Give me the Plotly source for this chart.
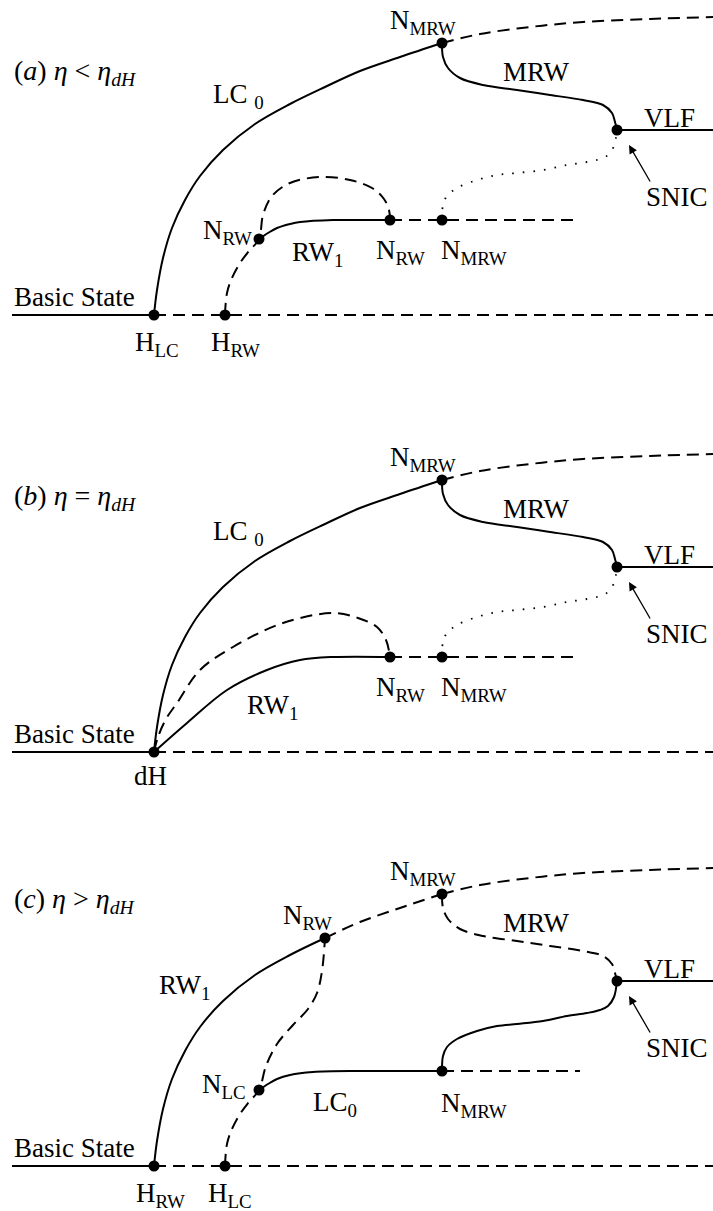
import plotly.graph_objects as go

# ---------------- data (schematic, drawn in panel-(a) frame) ----------------
PANEL_DY = [0, 437, 851]          # vertical shift of panels (a), (b), (c)

BASIC_X = [12, 154]
BASE_Y = 315
AXIS_DASH_X = [154, 713]

# primary branch rising from the first Hopf point up to N_MRW
UPPER_X = [154, 157, 163, 172, 185, 200, 223, 255, 290, 325, 360, 400, 442]
UPPER_Y = [315, 290, 258, 228, 200, 176, 150, 124, 104, 87, 71, 57, 43]
N_SPLIT_C = 9                     # index of N_RW on that branch in panel (c)

# unstable continuation beyond N_MRW
FAR_X = [442, 480, 530, 583, 650, 713]
FAR_Y = [43, 34, 27, 22, 19, 17]

# MRW branch from N_MRW down to SNIC
MRW_X = [442, 443, 448, 460, 483, 517, 550, 583, 603, 612, 615, 617]
MRW_Y = [43, 57, 68, 78, 85, 90, 95, 100, 105, 113, 122, 130]

VLF_X = [617, 713]
VLF_Y = 130

# branch from lower N_MRW up to SNIC
RISE_X = [442, 443, 447, 457, 477, 497, 517, 543, 567, 587, 600, 608, 614, 617]
RISE_Y = [220, 205, 196, 188, 180, 175, 173, 170, 165, 162, 159, 155, 146, 130]

LOW_DASH_X = [390, 577]
LOW_DASH_X_C = [442, 580]
LOW_Y = 220

# secondary branch (a): solid plateau from N_RW to N_RW
PLATEAU_X = [259, 268, 277, 290, 300, 333, 360, 390]
PLATEAU_Y = [239, 233, 228, 224, 222, 220, 220, 220]
PLATEAU_X_C = [259, 268, 277, 290, 313, 360, 400, 442]
PLATEAU_Y_C = [239, 233, 228, 224, 221, 220, 220, 220]

# secondary dashed branch (a): H_RW -> N_RW -> arch -> N_RW
ARCH_X = [225, 227, 232, 240, 249, 259, 263, 272, 290, 320, 350, 372, 384, 389, 390]
ARCH_Y = [315, 293, 278, 263, 251, 239, 215, 196, 183, 177, 180, 188, 199, 210, 220]

# panel (c): dashed H_LC -> N_LC -> N_RW
RIDGE_X = [225, 227, 232, 240, 249, 259, 266, 277, 293, 308, 317, 322, 325]
RIDGE_Y = [315, 293, 278, 263, 251, 239, 215, 193, 174, 158, 142, 120, 87]

# panel (b): branches emanating from the double-Hopf point
RW1B_X = [154, 187, 227, 267, 300, 333, 390]
RW1B_Y = [315, 286, 253, 233, 223, 220, 220]
ARCHB_X = [154, 158, 166, 177, 200, 233, 283, 333, 358, 377, 386, 390]
ARCHB_Y = [315, 300, 282, 266, 233, 210, 186, 176, 181, 190, 203, 220]

# bifurcation points per panel
DOTS_A_X = [154, 225, 259, 390, 442, 442, 617]
DOTS_A_Y = [315, 315, 239, 220, 220, 43, 130]
DOTS_B_X = [154, 390, 442, 442, 617]
DOTS_B_Y = [315, 220, 220, 43, 130]
DOTS_C_X = [154, 225, 259, 325, 442, 442, 617]
DOTS_C_Y = [315, 315, 239, 87, 43, 220, 130]

# --------------------------------------------------------------------------
FONT = "Liberation Serif"
DASH = "12px,7px"
DOT = "1.6px,9px"

fig = go.Figure()


def curve(xs, ys, dy, dash="solid", width=2.0):
    if not isinstance(ys, (list, tuple)):
        ys = [ys] * len(xs)
    fig.add_trace(go.Scatter(
        x=list(xs), y=[v + dy for v in ys], mode="lines",
        line=dict(color="black", width=width, dash=dash, shape="spline", smoothing=1.0),
        hoverinfo="skip"))


def dots(xs, ys, dy):
    fig.add_trace(go.Scatter(
        x=xs, y=[v + dy for v in ys], mode="markers",
        marker=dict(color="black", size=11), hoverinfo="skip"))


# ---- panel (a)
d = PANEL_DY[0]
curve(BASIC_X, BASE_Y, d)
curve(AXIS_DASH_X, BASE_Y, d, DASH)
curve(UPPER_X, UPPER_Y, d)
curve(FAR_X, FAR_Y, d, DASH)
curve(MRW_X, MRW_Y, d)
curve(VLF_X, VLF_Y, d)
curve(RISE_X, RISE_Y, d, DOT, 1.8)
curve(LOW_DASH_X, LOW_Y, d, DASH)
curve(PLATEAU_X, PLATEAU_Y, d)
curve(ARCH_X, ARCH_Y, d, DASH)
dots(DOTS_A_X, DOTS_A_Y, d)

# ---- panel (b)
d = PANEL_DY[1]
curve(BASIC_X, BASE_Y, d)
curve(AXIS_DASH_X, BASE_Y, d, DASH)
curve(UPPER_X, UPPER_Y, d)
curve(FAR_X, FAR_Y, d, DASH)
curve(MRW_X, MRW_Y, d)
curve(VLF_X, VLF_Y, d)
curve(RISE_X, RISE_Y, d, DOT, 1.8)
curve(LOW_DASH_X, LOW_Y, d, DASH)
curve(RW1B_X, RW1B_Y, d)
curve(ARCHB_X, ARCHB_Y, d, DASH)
dots(DOTS_B_X, DOTS_B_Y, d)

# ---- panel (c)
d = PANEL_DY[2]
curve(BASIC_X, BASE_Y, d)
curve(AXIS_DASH_X, BASE_Y, d, DASH)
curve(UPPER_X[:N_SPLIT_C + 1], UPPER_Y[:N_SPLIT_C + 1], d)
curve(UPPER_X[N_SPLIT_C:], UPPER_Y[N_SPLIT_C:], d, DASH)
curve(FAR_X, FAR_Y, d, DASH)
curve(MRW_X, MRW_Y, d, DASH)
curve(VLF_X, VLF_Y, d)
curve(RISE_X, RISE_Y, d)
curve(LOW_DASH_X_C, LOW_Y, d, DASH)
curve(PLATEAU_X_C, PLATEAU_Y_C, d)
curve(RIDGE_X, RIDGE_Y, d, DASH)
dots(DOTS_C_X, DOTS_C_Y, d)

# ---- labels
ann = []
LS = 27


def label(text, x, y, size=LS, xanchor="center"):
    ann.append(dict(text=text, x=x, y=y, xref="x", yref="y", showarrow=False,
                    xanchor=xanchor, yanchor="middle",
                    font=dict(family=FONT, size=size, color="black")))


def arrow(dy):
    ann.append(dict(text="", x=629, y=145 + dy, ax=651, ay=183 + dy, xref="x", yref="y",
                    axref="x", ayref="y", showarrow=True, arrowhead=2, arrowsize=1.3,
                    arrowwidth=1.3, arrowcolor="black"))


NM = "N<sub>MRW</sub>"
NR = "N<sub>RW</sub>"
MS = 28

# (a)
d = PANEL_DY[0]
label("(<i>a</i>) <i>η</i> &lt; <i>η</i><sub><i>dH</i></sub>", 12, 72 + d, MS, "left")
label("LC <sub>0</sub>", 238, 96 + d)
label(NM, 423, 22 + d)
label("MRW", 536, 72 + d)
label("VLF", 669, 118 + d)
label("SNIC", 677, 197 + d)
label(NR, 227, 232 + d)
label("RW<sub>1</sub>", 317, 254 + d)
label(NR, 400, 252 + d)
label(NM, 474, 252 + d)
label("Basic State", 74, 297 + d)
label("H<sub>LC</sub>", 157, 344 + d)
label("H<sub>RW</sub>", 235, 344 + d)
arrow(d)

# (b)
d = PANEL_DY[1]
label("(<i>b</i>) <i>η</i> = <i>η</i><sub><i>dH</i></sub>", 12, 497, MS, "left")
label("LC <sub>0</sub>", 238, 96 + d)
label(NM, 423, 22 + d)
label("MRW", 536, 72 + d)
label("VLF", 669, 118 + d)
label("SNIC", 677, 197 + d)
label("RW<sub>1</sub>", 272, 707)
label(NR, 400, 252 + d)
label(NM, 474, 252 + d)
label("Basic State", 74, 297 + d)
label("dH", 150, 776)
arrow(d)

# (c)
d = PANEL_DY[2]
label("(<i>c</i>) <i>η</i> &gt; <i>η</i><sub><i>dH</i></sub>", 12, 900, MS, "left")
label(NR, 307, 917)
label("RW<sub>1</sub>", 184, 987)
label(NM, 423, 22 + d)
label("MRW", 536, 72 + d)
label("VLF", 669, 118 + d)
label("SNIC", 677, 197 + d)
label("N<sub>LC</sub>", 224, 1086)
label("LC<sub>0</sub>", 335, 1104)
label(NM, 474, 1105)
label("Basic State", 74, 297 + d)
label("H<sub>RW</sub>", 160, 1195)
label("H<sub>LC</sub>", 230, 1195)
arrow(d)

fig.update_layout(
    width=713, height=1211,
    margin=dict(l=0, r=0, t=0, b=0),
    paper_bgcolor="white", plot_bgcolor="white",
    showlegend=False,
    xaxis=dict(range=[0, 713], visible=False, fixedrange=True),
    yaxis=dict(range=[1211, 0], visible=False, fixedrange=True),
    annotations=ann,
)

fig.write_html("out.html", post_script="document.body.style.margin='0';",
               config={"displayModeBar": False})
